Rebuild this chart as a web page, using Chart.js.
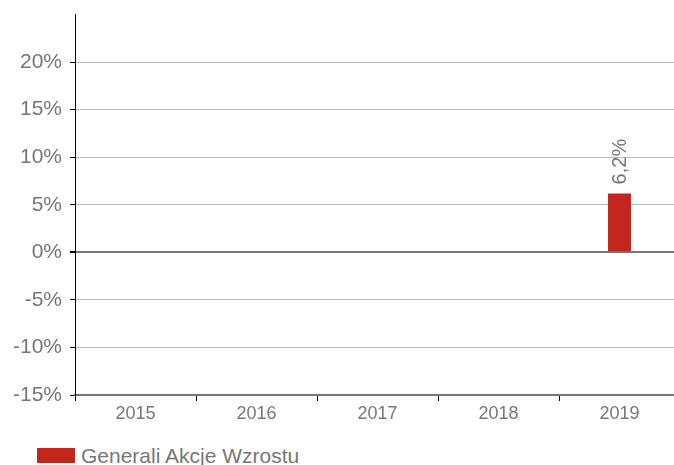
<!DOCTYPE html>
<html>
<head>
<meta charset="utf-8">
<script src="https://cdn.jsdelivr.net/npm/chart.js@4"></script>
<style>
  html, body { margin: 0; padding: 0; overflow: hidden; background: #fff; }
  body { position: relative; width: 674px; height: 465px; }
  #wrap { position: absolute; left: 0; top: -6px; width: 680px; height: 432px; }
  #legend { position: absolute; left: 37px; top: 445px; height: 21px; white-space: nowrap;
            font: 21px/21px "Liberation Sans", Arial, sans-serif; color: #777; }
  #legend .box { position: absolute; left: 0; top: 3px; width: 38px; height: 15px; }
  #legend .txt { position: absolute; left: 44px; top: 0; }
</style>
</head>
<body>
<div id="wrap"><canvas id="myChart"></canvas></div>
<div id="legend"></div>
<script>
const years = ['2015', '2016', '2017', '2018', '2019'];
const fundName = 'Generali Akcje Wzrostu';
const fundReturns = [null, null, null, null, 6.2];
const yTicks = [-15, -10, -5, 0, 5, 10, 15, 20];
const fundColor = '#c4261d';

const FONT = '"Liberation Sans", Arial, sans-serif';

document.addEventListener("DOMContentLoaded", myLoadEvent);

function myLoadEvent() {
    const ctx = document.getElementById('myChart');

    // rotated value label above each bar
    const barLabels = {
        id: 'barLabels',
        afterDatasetsDraw(chart) {
            const c = chart.ctx;
            const meta = chart.getDatasetMeta(0);
            meta.data.forEach((bar, i) => {
                const v = fundReturns[i];
                if (v === null) return;
                c.save();
                c.translate(bar.x, bar.y - 9);
                c.rotate(-Math.PI / 2);
                c.font = '20px ' + FONT;
                c.fillStyle = '#777';
                c.textAlign = 'left';
                c.textBaseline = 'middle';
                c.fillText(v.toFixed(1).replace('.', ',') + '%', 0, 1);
                c.restore();
            });
        }
    };

    const chart = new Chart(ctx, {
        type: 'bar',
        data: {
            labels: years,
            datasets: [{
                label: fundName,
                data: fundReturns,
                backgroundColor: fundColor,
                barPercentage: 0.19,
                categoryPercentage: 1
            }]
        },
        options: {
            responsive: true,
            maintainAspectRatio: false,
            animation: false,
            layout: { padding: { top: 2, right: 0, left: 0, bottom: 0 } },
            plugins: {
                tooltip: { enabled: false },
                legend: { display: false }
            },
            scales: {
                x: {
                    offset: true,
                    afterFit(scale) { scale.height = 31; },
                    grid: {
                        offset: true,
                        drawOnChartArea: false,
                        tickLength: 6,
                        tickColor: '#000'
                    },
                    border: { color: '#777', width: 2 },
                    ticks: {
                        color: '#777',
                        padding: 2,
                        font: { size: 18, family: FONT }
                    }
                },
                y: {
                    min: -15,
                    max: 25,
                    afterFit(scale) { scale.width = 75; },
                    afterBuildTicks(scale) {
                        scale.ticks = yTicks.concat([25]).map(v => ({ value: v }));
                    },
                    grid: {
                        color: c => c.tick && c.tick.value === 0 ? '#777' : (c.tick && c.tick.value === 25 ? 'rgba(0,0,0,0)' : '#bbb'),
                        lineWidth: c => c.tick && c.tick.value === 0 ? 2 : 1,
                        tickLength: 5,
                        tickColor: c => c.tick && c.tick.value === 25 ? 'rgba(0,0,0,0)' : '#000'
                    },
                    border: { color: '#000', width: 1 },
                    ticks: {
                        color: '#777',
                        padding: 8,
                        font: { size: 21, family: FONT },
                        callback: v => v === 25 ? '' : v + '%'
                    }
                }
            }
        },
        plugins: [barLabels]
    });

    // legend built from the dataset
    const legend = document.getElementById('legend');
    chart.data.datasets.forEach(ds => {
        const box = document.createElement('span');
        box.className = 'box';
        box.style.background = ds.backgroundColor;
        const txt = document.createElement('span');
        txt.className = 'txt';
        txt.textContent = ds.label;
        legend.appendChild(box);
        legend.appendChild(txt);
    });
}
</script>
</body>
</html>
